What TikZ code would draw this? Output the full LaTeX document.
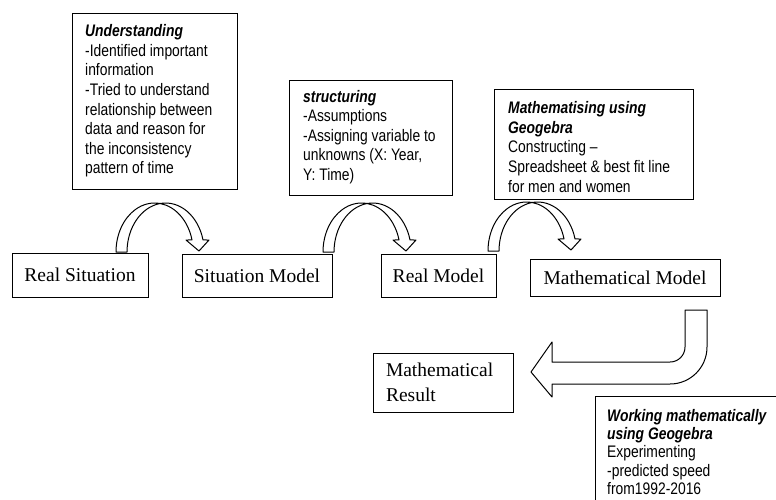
\documentclass[tikz,border=0pt]{standalone}
\usepackage{fontspec}
\setmainfont{Liberation Serif}
\newfontfamily\arialfam[FakeStretch=0.83, Ligatures=TeX]{Liberation Sans}
\tikzset{
  frame/.style={draw=black, line width=1pt, fill=white, inner sep=0pt},
  sbox/.style={frame, font=\fontsize{19.5}{25}\selectfont},
  sanstxt/.style={inner sep=0pt, align=left, font=\arialfam\fontsize{16.7}{19.6}\selectfont},
  arr/.style={draw=black, line width=1pt, fill=white, line join=round},
  curvedarrow/.pic={
    \draw[arr] (0,0)
      arc[start angle=180, end angle=278.2, x radius=38.6, y radius=49]
      arc[start angle=261.8, end angle=345.8, x radius=38.6, y radius=49]
      -- (93,-12) -- (83,-1) -- (70,-12) -- (76.02,-12.02)
      arc[start angle=345.8, end angle=278.2, x radius=38.6, y radius=49]
      arc[start angle=261.8, end angle=180, x radius=38.6, y radius=49]
      -- cycle;
  }
}
\begin{document}
\begin{tikzpicture}[x=1pt, y=-1pt]
\useasboundingbox (0,0) rectangle (776,499);
\fill[white] (0,0) rectangle (776,499);
\clip (0,0) rectangle (776,499);

% text boxes (sans)
\node[frame, minimum width=165pt, minimum height=176pt] (u) at (154.5,101) {};
\node[sanstxt, anchor=west] (ut) at (85,101) {\textbf{\textit{Understanding}}\\-Identified important\\information\\-Tried to understand\\relationship between\\data and reason for\\the inconsistency\\pattern of time};

\node[frame, minimum width=163pt, minimum height=115pt] (s) at (370.5,137.5) {};
\node[sanstxt, anchor=west] (st) at (303,137) {\textbf{\textit{structuring}}\\-Assumptions\\-Assigning variable to\\unknowns (X: Year,\\Y: Time)};

\node[frame, minimum width=199pt, minimum height=110pt] (m) at (593.5,144) {};
\node[sanstxt, anchor=west] (mt) at (508,147) {\textbf{\textit{Mathematising using}}\\\textbf{\textit{Geogebra}}\\Constructing –\\Spreadsheet \& best fit line\\for men and women};

\node[frame, minimum width=195pt, minimum height=124pt] (w) at (692.5,458) {};
\node[sanstxt, anchor=west, font=\arialfam\fontsize{16.7}{18.3}\selectfont] (wt) at (607,452) {\textbf{\textit{Working mathematically}}\\\textbf{\textit{using Geogebra}}\\Experimenting\\-predicted speed\\from1992-2016};

% curved arrows
\pic at (116,252) {curvedarrow};
\pic at (323,252) {curvedarrow};
\pic at (488,251) {curvedarrow};

% model boxes (serif)
\node[sbox, minimum width=136pt, minimum height=44pt] (rs) at (80,275) {Real Situation};
\node[sbox, minimum width=150pt, minimum height=43pt] (sm) at (257,275.5) {Situation Model};
\node[sbox, minimum width=115pt, minimum height=43pt] (rm) at (438.5,275.5) {Real Model};
\node[sbox, minimum width=190pt, minimum height=37pt] (mm) at (625,277.5) {Mathematical Model};
\node[sbox, minimum width=140pt, minimum height=59pt, align=left, text width=114pt, inner xsep=13pt] (mr) at (443,382.5) {Mathematical\\Result};

% bent arrow from Mathematical Model to Mathematical Result
\draw[arr] (685,310) -- (707,310) -- (707,347)
  arc[start angle=0, end angle=90, radius=37]
  -- (552,384) -- (552,397) -- (531,372) -- (552,342) -- (552,362) -- (670,362)
  arc[start angle=90, end angle=0, radius=15] -- cycle;
\end{tikzpicture}
\end{document}
